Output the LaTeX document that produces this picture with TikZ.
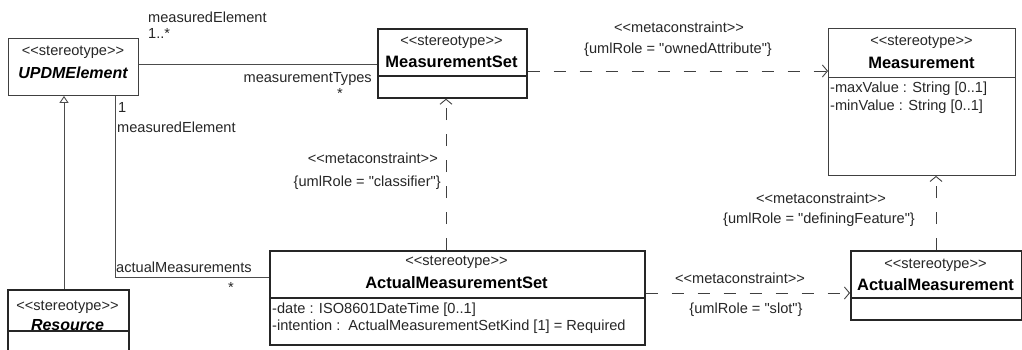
\documentclass[tikz,border=0pt]{standalone}
\usepackage{fontspec}
\newfontfamily\umlfont{Liberation Sans}
\usetikzlibrary{arrows.meta}

\begin{document}
\begin{tikzpicture}[x=1pt,y=-1pt,
		txt/.style={inner sep=0pt, font=\umlfont\fontsize{14.6}{16}\selectfont, text=black!85},
		cname/.style={inner sep=0pt, font=\umlfont\fontsize{16.5}{18}\selectfont\bfseries},
		absname/.style={inner sep=0pt, font=\umlfont\fontsize{16}{18}\selectfont\bfseries\itshape},
		cls/.style={draw=black!85, line width=1.7pt, anchor=north west, inner sep=0pt},
		lightcls/.style={cls, line width=0.9pt, draw=black!75},
		dep/.style={draw=black!75, line width=0.9pt, dash pattern=on 12pt off 14pt, -{Straight Barb[length=5pt,width=12pt]}},
		gen/.style={draw=black!70, line width=0.9pt, -{Triangle[open,length=7pt,width=9pt]}},
		assoc/.style={draw=black!70, line width=0.9pt}]
		\clip (0,0) rectangle (1022,349);

		% classes
		\node[lightcls, minimum width=130pt, minimum height=57pt] (upe) at (8,38) {};
		\node[txt] (upe-st) at (73,52) {<<stereotype>>};
		\node[absname] (upe-nm) at (73,73) {UPDMElement};

		\node[cls, minimum width=149pt, minimum height=69pt] (ms) at (377,28) {};
		\draw[line width=1.7pt, black!85] (ms.west |- 0,76) -- (ms.east |- 0,76);
		\node[txt] (ms-st) at (451.5,42) {<<stereotype>>};
		\node[cname] (ms-nm) at (451.5,62) {MeasurementSet};

		\node[lightcls, minimum width=187pt, minimum height=147pt] (meas) at (828,28) {};
		\draw[line width=0.9pt, black!75] (meas.west |- 0,77) -- (meas.east |- 0,77);
		\node[txt] (meas-st) at (921.5,42) {<<stereotype>>};
		\node[cname] (meas-nm) at (921.5,63) {Measurement};
		\node[txt, anchor=west] (meas-a1) at (830,89) {-maxValue : String [0..1]};
		\node[txt, anchor=west] (meas-a2) at (830,107) {-minValue : String [0..1]};

		\node[cls, minimum width=121pt, minimum height=75pt] (res) at (7,289) {};
		\draw[line width=1.7pt, black!85] (res.west |- 0,331) -- (res.east |- 0,331);
		\node[txt] (res-st) at (67.5,307) {<<stereotype>>};
		\node[absname] (res-nm) at (67.5,325) {Resource};

		\node[cls, minimum width=375pt, minimum height=94pt] (ams) at (269,250) {};
		\draw[line width=1.7pt, black!85] (ams.west |- 0,298) -- (ams.east |- 0,298);
		\node[txt] (ams-st) at (456.5,262) {<<stereotype>>};
		\node[cname] (ams-nm) at (456.5,283) {ActualMeasurementSet};
		\node[txt, anchor=west] (ams-a1) at (272,310) {-date : ISO8601DateTime [0..1]};
		\node[txt, anchor=west] (ams-a2) at (272,327) {-intention :\ \ ActualMeasurementSetKind [1] = Required};

		\node[cls, minimum width=171pt, minimum height=69pt] (am) at (850,250) {};
		\draw[line width=1.7pt, black!85] (am.west |- 0,298) -- (am.east |- 0,298);
		\node[txt] (am-st) at (935.5,265) {<<stereotype>>};
		\node[cname] (am-nm) at (935.5,285) {ActualMeasurement};

		% associations
		\draw[assoc] (upe.east |- 0,64) -- (ms.west |- 0,64);
		\node[txt, anchor=west] (me1) at (148,17) {measuredElement};
		\node[txt, anchor=west] (me1-m) at (148,33) {1..*};
		\node[txt, anchor=east] (mt) at (372,79) {measurementTypes};
		\node[txt] (mt-m) at (340,93) {*};

		\draw[gen] (res.north -| 64,0) -- (upe.south -| 64,0);

		\draw[assoc] (upe.south -| 115,0) |- (ams.west |- 0,277);
		\node[txt, anchor=west] (me2-m) at (118,107) {1};
		\node[txt, anchor=west] (me2) at (117,127) {measuredElement};
		\node[txt, anchor=west] (ams-r) at (116,267) {actualMeasurements};
		\node[txt] (ams-m) at (231,287) {*};

		% metaconstraints
		\draw[dep] (ms.east |- 0,71) -- (meas.west |- 0,71);
		\node[txt] (oa-st) at (679,27) {<<metaconstraint>>};
		\node[txt] (oa-rl) at (678,50) {\{umlRole = "ownedAttribute"\}};

		\draw[dep] (ams.north -| 446,0) -- (ms.south -| 446,0);
		\node[txt, anchor=east] (cl-st) at (438,158) {<<metaconstraint>>};
		\node[txt, anchor=east] (cl-rl) at (441,183) {\{umlRole = "classifier"\}};

		\draw[dep] (am.north -| 936,0) -- (meas.south -| 936,0);
		\node[txt] (df-st) at (821,198) {<<metaconstraint>>};
		\node[txt] (df-rl) at (819,220) {\{umlRole = "definingFeature"\}};

		\draw[dep] (ams.east |- 0,293) -- (am.west |- 0,293);
		\node[txt] (sl-st) at (740,278) {<<metaconstraint>>};
		\node[txt] (sl-rl) at (746,310) {\{umlRole = "slot"\}};
	\end{tikzpicture}
\end{document}
